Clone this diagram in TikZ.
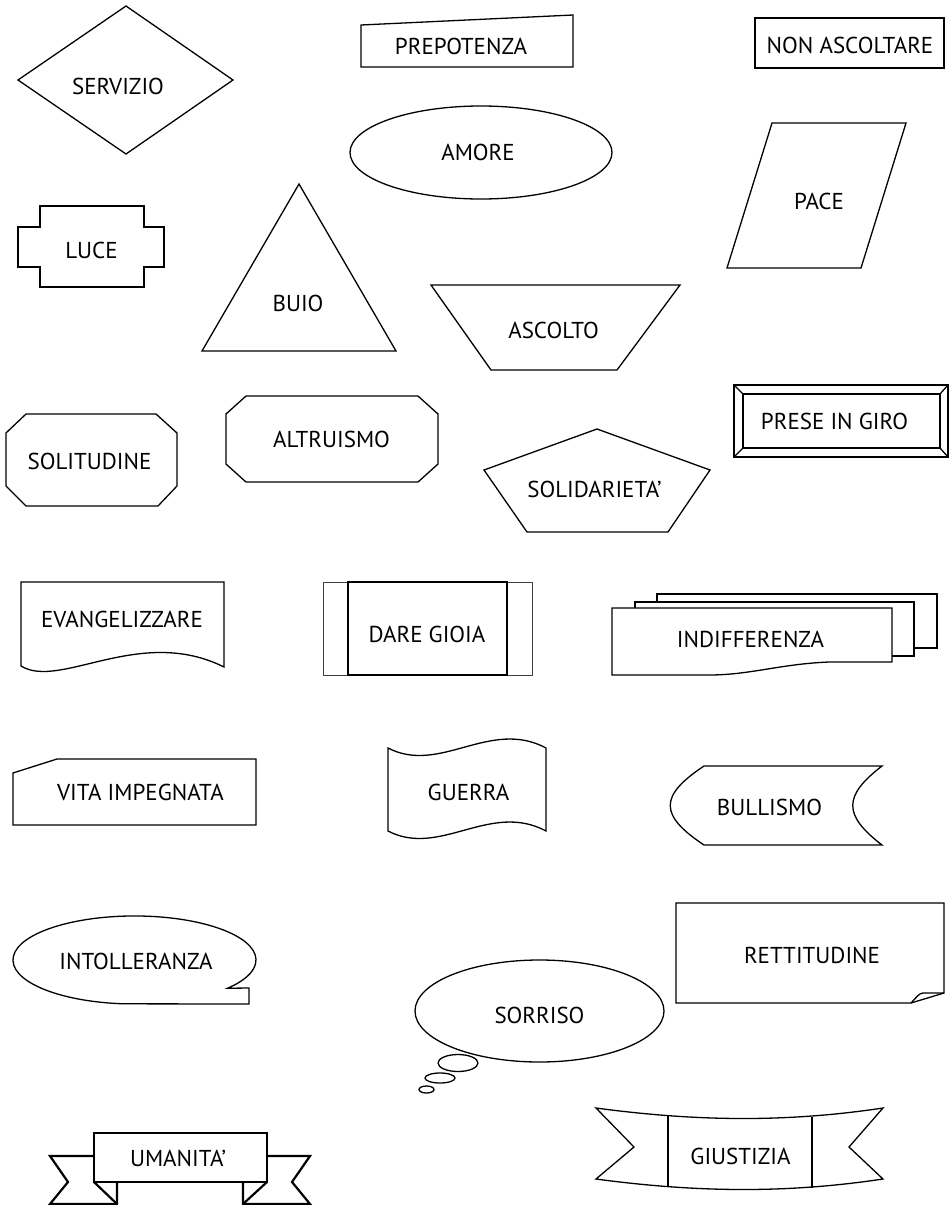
\documentclass[tikz,border=0pt]{standalone}
\usepackage{fontspec}
\setmainfont{PT Sans}
\begin{document}
\begin{tikzpicture}[x=1pt,y=-1pt]
\tikzset{
  shp/.style={draw=black, line width=1.3pt, line join=miter},
  thinshp/.style={draw=black!75, line width=0.8pt},
  thickshp/.style={draw=black, line width=2.2pt, line join=miter},
  lbl/.style={font=\fontsize{23}{27}\selectfont, inner sep=0pt, anchor=center}
}
\useasboundingbox (0,0) rectangle (952,1205);
\fill[white] (0,0) rectangle (952,1205);

% SERVIZIO
\draw[shp] (18,80) -- (126,6) -- (233,80) -- (126,154) -- cycle;
\node[lbl] (servizio) at (118,86) {SERVIZIO};

% PREPOTENZA
\draw[shp] (361,25) -- (573,15) -- (573,67) -- (361,67) -- cycle;
\node[lbl] (prepotenza) at (461,46) {PREPOTENZA};

% NON ASCOLTARE
\draw[shp] (755,18) rectangle (944,68);
\node[lbl] (nonascoltare) at (850,45) {NON ASCOLTARE};

% AMORE
\draw[shp] (481,152.5) ellipse [x radius=131, y radius=46.5];
\node[lbl] (amore) at (478,152) {AMORE};

% PACE
\draw[shp] (772,123) -- (906,123) -- (861,268) -- (727,268) -- cycle;
\node[lbl] (pace) at (819,201) {PACE};

% LUCE
\draw[shp] (40,206) -- (144,206) -- (144,227) -- (164,227) -- (164,267) -- (144,267) -- (144,287) -- (40,287) -- (40,267) -- (18,267) -- (18,227) -- (40,227) -- cycle;
\node[lbl] (luce) at (91.5,250) {LUCE};

% BUIO
\draw[shp] (299,184) -- (396,351) -- (202,351) -- cycle;
\node[lbl] (buio) at (298,303) {BUIO};

% ASCOLTO
\draw[shp] (431,285) -- (680,285) -- (617,370) -- (491,370) -- cycle;
\node[lbl] (ascolto) at (553.5,330) {ASCOLTO};

% SOLITUDINE
\draw[shp] (26,414) -- (156,414) -- (177,433) -- (177,486) -- (158,506) -- (26,506) -- (6,486) -- (6,433) -- cycle;
\node[lbl] (solitudine) at (89.5,461) {SOLITUDINE};

% ALTRUISMO
\draw[shp] (246,396) -- (418,396) -- (438,414) -- (438,464) -- (418,482) -- (246,482) -- (226,464) -- (226,414) -- cycle;
\node[lbl] (altruismo) at (331.5,439.5) {ALTRUISMO};

% SOLIDARIETA'
\draw[shp] (597,429) -- (710,470) -- (668,532) -- (527,532) -- (484,470) -- cycle;
\node[lbl] (solidarieta) at (594.5,489) {SOLIDARIETA’};

% PRESE IN GIRO
\draw[shp] (734,385) rectangle (948,457);
\draw[shp] (743,394) rectangle (940,448);
\draw[shp] (734,385) -- (743,394) (948,385) -- (940,394) (948,457) -- (940,448) (734,457) -- (743,448);
\node[lbl] (preseingiro) at (834.5,421) {PRESE IN GIRO};

% EVANGELIZZARE
\draw[shp] (21,666) -- (21,582) -- (224,582) -- (224,667) .. controls (140,625) and (60,690) .. (21,666) -- cycle;
\node[lbl] (evangelizzare) at (122,619) {EVANGELIZZARE};

% DARE GIOIA
\draw[thinshp] (323,582) rectangle (532,675);
\draw[shp] (348,582) rectangle (507,675);
\node[lbl] (daregioia) at (427,634.5) {DARE GIOIA};

% INDIFFERENZA
\draw[shp] (657,602) -- (657,594) -- (937,594) -- (937,648) -- (914,648);
\draw[shp] (635,608) -- (635,602) -- (914,602) -- (914,656) -- (892,656);
\draw[shp] (612,608) -- (892,608) -- (892,662) -- (829,662) .. controls (780,664) and (750,675) .. (709,675) -- (612,675) -- cycle;
\node[lbl] (indifferenza) at (750.5,639) {INDIFFERENZA};

% VITA IMPEGNATA
\draw[shp] (13,773) -- (57,759) -- (256,759) -- (256,825) -- (13,825) -- cycle;
\node[lbl] (vitaimpegnata) at (140.5,792) {VITA IMPEGNATA};

% GUERRA
\draw[shp] (388,748) .. controls (440,775) and (490,718) .. (546,748) -- (546,831) .. controls (490,801) and (440,858) .. (388,831) -- cycle;
\node[lbl] (guerra) at (468.5,792.5) {GUERRA};

% BULLISMO
\draw[shp] (704,766) -- (882,766) .. controls (843,796) and (843,815) .. (882,845) -- (704,845) .. controls (659,815) and (659,796) .. (704,766) -- cycle;
\node[lbl] (bullismo) at (769.5,807) {BULLISMO};

% INTOLLERANZA
\draw[shp] (249,1004) -- (123.9,1003.8) arc[start angle=95, end angle=400, x radius=121.5, y radius=44] -- (249,988) -- cycle;
\node[lbl] (intolleranza) at (136,961) {INTOLLERANZA};

% RETTITUDINE
\draw[shp] (676,903) -- (944,903) -- (944,993) -- (911,1003) -- (676,1003) -- cycle;
\draw[shp] (911,1003) .. controls (916,998) and (919,993) .. (923,993) -- (944,993);
\node[lbl] (rettitudine) at (812,955) {RETTITUDINE};

% SORRISO
\draw[shp] (539.5,1011) ellipse [x radius=124.5, y radius=51];
\draw[shp] (458,1063) ellipse [x radius=20, y radius=8.5];
\draw[shp] (440,1078) ellipse [x radius=15, y radius=5];
\draw[shp] (426.5,1089.5) ellipse [x radius=7.5, y radius=3.5];
\node[lbl] (sorriso) at (539.5,1015) {SORRISO};

% UMANITA'
\draw[thickshp] (94,1156) -- (50,1156) -- (68,1182) -- (50,1204) -- (117,1204) -- (117,1182);
\draw[thickshp] (94,1182) -- (117,1204);
\draw[thickshp] (267,1156) -- (310,1156) -- (292,1182) -- (310,1204) -- (243,1204) -- (243,1182);
\draw[thickshp] (267,1182) -- (243,1204);
\draw[thickshp] (94,1133) rectangle (267,1182);
\node[lbl] (umanita) at (178,1158) {UMANITA’};

% GIUSTIZIA
\draw[shp] (596,1108) .. controls (700,1122) and (790,1122) .. (883,1108) -- (849,1147) -- (883,1179) .. controls (790,1193) and (700,1193) .. (596,1179) -- (634,1147) -- cycle;
\draw[shp] (668,1116) -- (668,1187);
\draw[shp] (812,1117) -- (812,1188);
\node[lbl] (giustizia) at (740.5,1156) {GIUSTIZIA};
\end{tikzpicture}
\end{document}
